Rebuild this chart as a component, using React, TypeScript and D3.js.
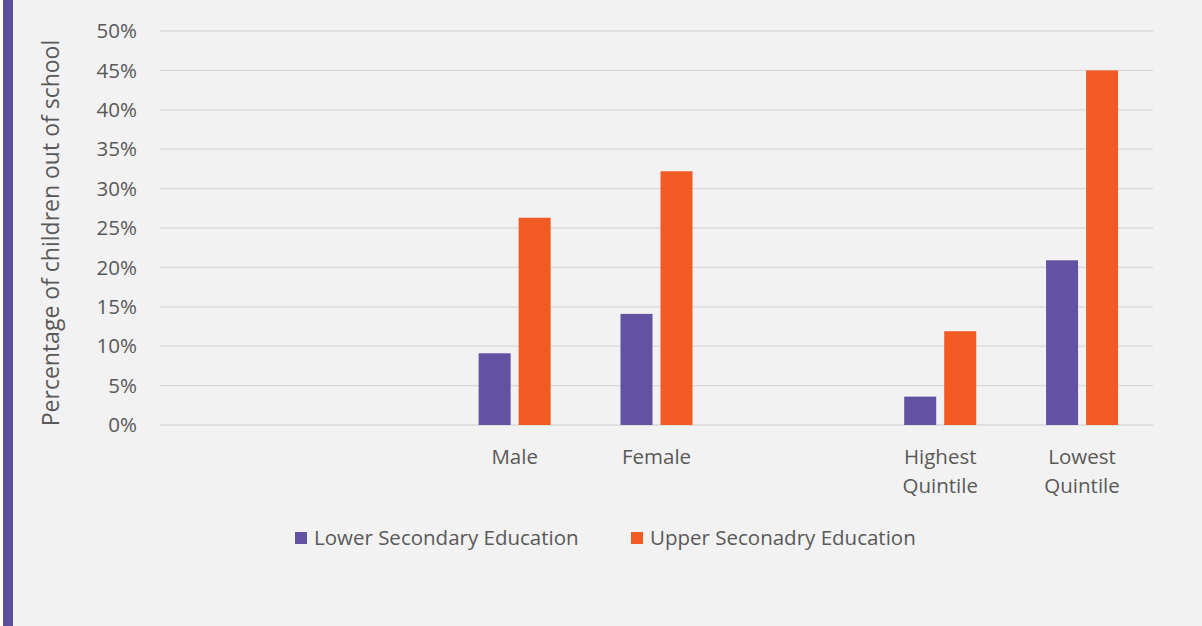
import React from "react";
import * as d3 from "d3";

const categories: string[][] = [[], [], ["Male"], ["Female"], [], ["Highest", "Quintile"], ["Lowest", "Quintile"]];
const lowerSecondary: (number | null)[] = [null, null, 9.1, 14.1, null, 3.6, 20.9];
const upperSecondary: (number | null)[] = [null, null, 26.3, 32.2, null, 11.9, 45.0];
const yTicks: number[] = [0, 5, 10, 15, 20, 25, 30, 35, 40, 45, 50];
const seriesNames: string[] = ["Lower Secondary Education", "Upper Seconadry Education"];
const colors: string[] = ["#6351A1", "#F15A22"];

const W = 1202, H = 626;
const FONT = "'Open Sans', sans-serif";

export default function App() {
  const x = d3.scaleBand<number>().domain(categories.map((_, i) => i)).range([160, 1153]).paddingInner(0).paddingOuter(0);
  const y = d3.scaleLinear().domain([0, 50]).range([425, 31]);
  const bw = 32, gap = 8;
  const series = [lowerSecondary, upperSecondary];
  return (
    <svg width={W} height={H} style={{ position: "absolute", left: 0, top: 0 }} fontFamily={FONT}>
      <rect x={0} y={0} width={W} height={H} fill="#ffffff" />
      <rect x={3} y={0} width={W - 3} height={H} fill="#f2f2f2" />
      <rect x={3} y={0} width={10} height={H} fill="#5E4E9E" />
      {yTicks.map((t) => (
        <g key={t}>
          <line x1={160} x2={1153} y1={y(t)} y2={y(t)} stroke="#d9d9d9" strokeWidth={1.3} />
          <text x={137} y={y(t)} dy="0.35em" textAnchor="end" fontSize={20.5} fill="#595959">{t}%</text>
        </g>
      ))}
      {series.map((vals, s) =>
        vals.map((v, i) => {
          if (v == null) return null;
          const cx = (x(i) as number) + x.bandwidth() / 2;
          const bx = s === 0 ? cx - gap / 2 - bw : cx + gap / 2;
          return <rect key={`${s}-${i}`} x={bx} y={y(v)} width={bw} height={y(0) - y(v)} fill={colors[s]} />;
        })
      )}
      {categories.map((lines, i) => {
        const cx = (x(i) as number) + x.bandwidth() / 2;
        return lines.map((l, k) => (
          <text key={`${i}-${k}`} x={cx} y={464 + k * 29} textAnchor="middle" fontSize={20.5} fill="#595959">{l}</text>
        ));
      })}
      <text transform={`translate(59,233) rotate(-90)`} textAnchor="middle" fontSize={23} fill="#595959">Percentage of children out of school</text>
      {seriesNames.map((n, s) => {
        const lx = s === 0 ? 295 : 631;
        return (
          <g key={n}>
            <rect x={lx} y={532} width={12} height={12} fill={colors[s]} />
            <text x={lx + 19} y={538} dy="0.35em" fontSize={20.5} fill="#595959">{n}</text>
          </g>
        );
      })}
    </svg>
  );
}
